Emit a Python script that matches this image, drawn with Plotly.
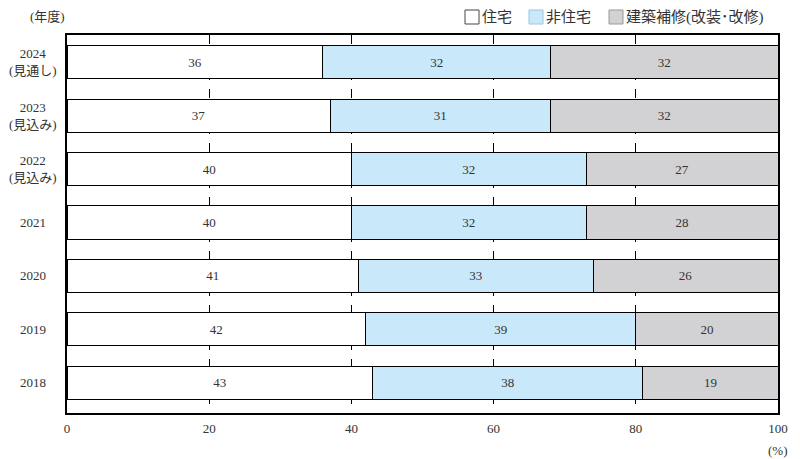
import plotly.graph_objects as go

years = ["2024", "2023", "2022", "2021", "2020", "2019", "2018"]
year_notes = ["(見通し)", "(見込み)", "(見込み)", "", "", "", ""]
# shares as drawn (bar lengths, %)
residential = [36, 37, 40, 40, 41, 42, 43]
non_residential = [32, 31, 33, 33, 33, 38, 38]
renovation = [32, 32, 27, 27, 26, 20, 19]
# figures as printed on the bars (rounded, %)
residential_labels = [36, 37, 40, 40, 41, 42, 43]
non_residential_labels = [32, 31, 32, 32, 33, 39, 38]
renovation_labels = [32, 32, 27, 28, 26, 20, 19]
x_ticks = [0, 20, 40, 60, 80, 100]

series = [
    ("住宅", residential, residential_labels, "#ffffff", "#444444"),
    ("非住宅", non_residential, non_residential_labels, "#c9e9fa", "#9fc4d8"),
    ("建築補修(改装･改修)", renovation, renovation_labels, "#d2d2d4", "#999999"),
]

num_font = "Liberation Serif, DejaVu Serif, Noto Sans CJK JP"
jp_font = "Liberation Serif, Noto Sans CJK JP"

# page body has an 8px default margin, so the figure is offset by 8px
W, H = 792, 451
L, R, T, B = 59, 22, 27, 46
plot_w = W - L - R
plot_h = H - T - B

def px_x(px):  # window pixel -> paper x
    return (px - (L + 8)) / plot_w

def px_y(py):  # window pixel -> paper y
    return ((T + 8 + plot_h) - py) / plot_h

fig = go.Figure()
for name, vals, labels, color, _ in series:
    fig.add_trace(go.Bar(
        y=years, x=vals, name=name, orientation="h",
        marker=dict(color=color, line=dict(color="#000000", width=1)),
        text=labels, textposition="inside", insidetextanchor="middle",
        textfont=dict(color="#333333", size=13, family=num_font),
        width=0.62, constraintext="none", showlegend=False,
    ))

annotations = []
for i, (yr, note) in enumerate(zip(years, year_notes)):
    label = yr if not note else f"{yr}<br>{note}"
    annotations.append(dict(
        text=label, x=px_x(33), xref="paper", xanchor="center", align="center",
        y=i, yref="y", yanchor="middle", showarrow=False,
        font=dict(size=13, family=jp_font, color="#333333"),
    ))
annotations += [
    dict(text="(年度)", x=px_x(47), xref="paper", xanchor="center",
         y=px_y(17), yref="paper", yanchor="middle", showarrow=False,
         font=dict(size=13, family=jp_font, color="#333333")),
    dict(text="(%)", x=1, xref="paper", xanchor="center", xshift=0,
         y=0, yref="paper", yanchor="top", yshift=-28, showarrow=False,
         font=dict(size=13, family=num_font, color="#333333")),
]

# custom legend: square swatch immediately followed by text
shapes = []
legend_x = [465, 529, 609]
for (name, _, _, color, edge), lx in zip(series, legend_x):
    shapes.append(dict(type="rect", xref="paper", yref="paper",
                       x0=px_x(lx), x1=px_x(lx + 14), y0=px_y(24), y1=px_y(10),
                       fillcolor=color, line=dict(color=edge, width=1)))
    annotations.append(dict(text=name, x=px_x(lx + 15), xref="paper", xanchor="left",
                            y=px_y(17), yref="paper", yanchor="middle", showarrow=False,
                            font=dict(size=15, family=jp_font, color="#333333")))

fig.update_layout(
    width=W, height=H,
    barmode="stack",
    paper_bgcolor="white", plot_bgcolor="white",
    margin=dict(l=L, r=R, t=T, b=B, autoexpand=False),
    font=dict(family=num_font, color="#333333", size=13),
    showlegend=False,
    xaxis=dict(range=[0, 100], tickvals=x_ticks,
               showgrid=True, gridcolor="#000000", griddash="dash", gridwidth=1,
               showline=True, mirror=True, linecolor="#000000", linewidth=2,
               ticks="", ticklen=0, zeroline=False, tickfont=dict(size=13),
               ticklabelstandoff=2, automargin=False),
    yaxis=dict(type="category", categoryorder="array", categoryarray=years,
               range=[6.57, -0.514],
               showline=True, mirror=True, linecolor="#000000", linewidth=2,
               ticks="", showgrid=False, showticklabels=False, automargin=False),
    annotations=annotations,
    shapes=shapes,
)

fig.write_html("out.html")
